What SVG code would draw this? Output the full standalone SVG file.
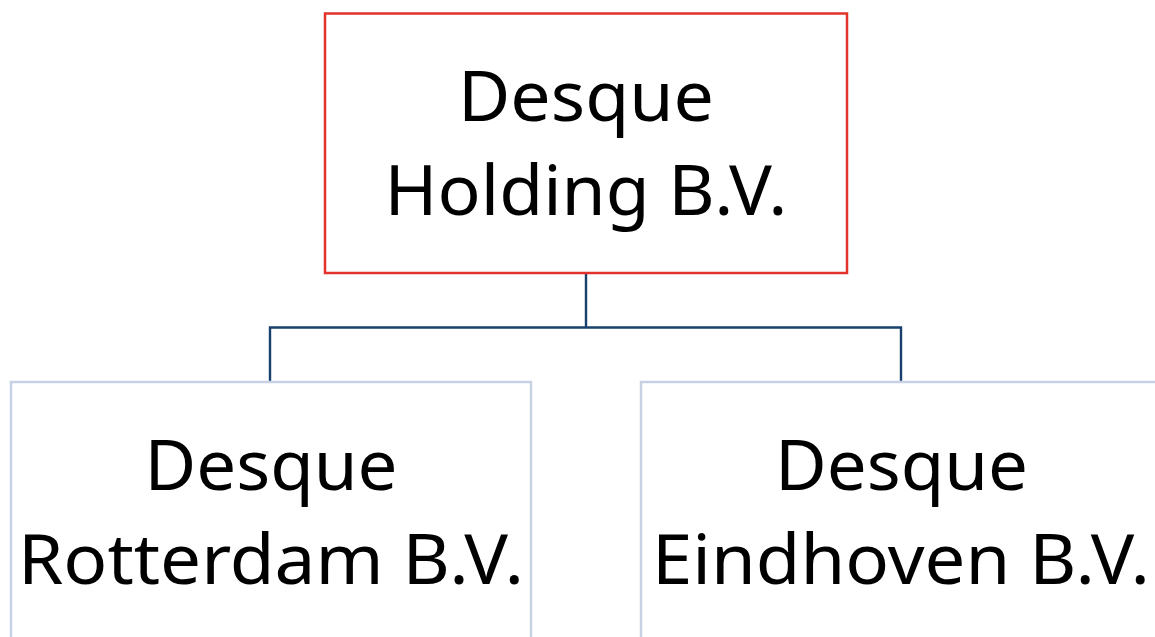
<svg xmlns="http://www.w3.org/2000/svg" width="1155" height="637" viewBox="0 0 1155 637">
<style>
.t{font-family:"Noto Sans","Open Sans","DejaVu Sans",sans-serif;font-size:69px;fill:#000;text-anchor:middle}
.top{fill:#fff;stroke:#e3322b;stroke-width:2.5}
.sub{fill:#fff;stroke:#c8d1e3;stroke-width:2.5}
.c{fill:none;stroke:#17406d;stroke-width:2.4}
</style>
<rect width="1155" height="637" fill="#fff"/>
<g id="connectors">
<path class="c" d="M586 273V327.5M270 382V327.5H901V382"/>
</g>
<g id="holding">
<rect class="top" x="325" y="13.5" width="522" height="259.5"/>
<text class="t" x="586" y="121" textLength="256" lengthAdjust="spacingAndGlyphs">Desque</text>
<text class="t" x="586" y="215" textLength="403" lengthAdjust="spacingAndGlyphs">Holding B.V.</text>
</g>
<g id="rotterdam">
<rect class="sub" x="11" y="382" width="520" height="270"/>
<text class="t" x="271" y="490" textLength="253" lengthAdjust="spacingAndGlyphs">Desque</text>
<text class="t" x="271" y="584" textLength="506" lengthAdjust="spacingAndGlyphs">Rotterdam B.V.</text>
</g>
<g id="eindhoven">
<rect class="sub" x="641" y="382" width="530" height="270"/>
<text class="t" x="901.5" y="490" textLength="253" lengthAdjust="spacingAndGlyphs">Desque</text>
<text class="t" x="901" y="584" textLength="498" lengthAdjust="spacingAndGlyphs">Eindhoven B.V.</text>
</g>
</svg>
